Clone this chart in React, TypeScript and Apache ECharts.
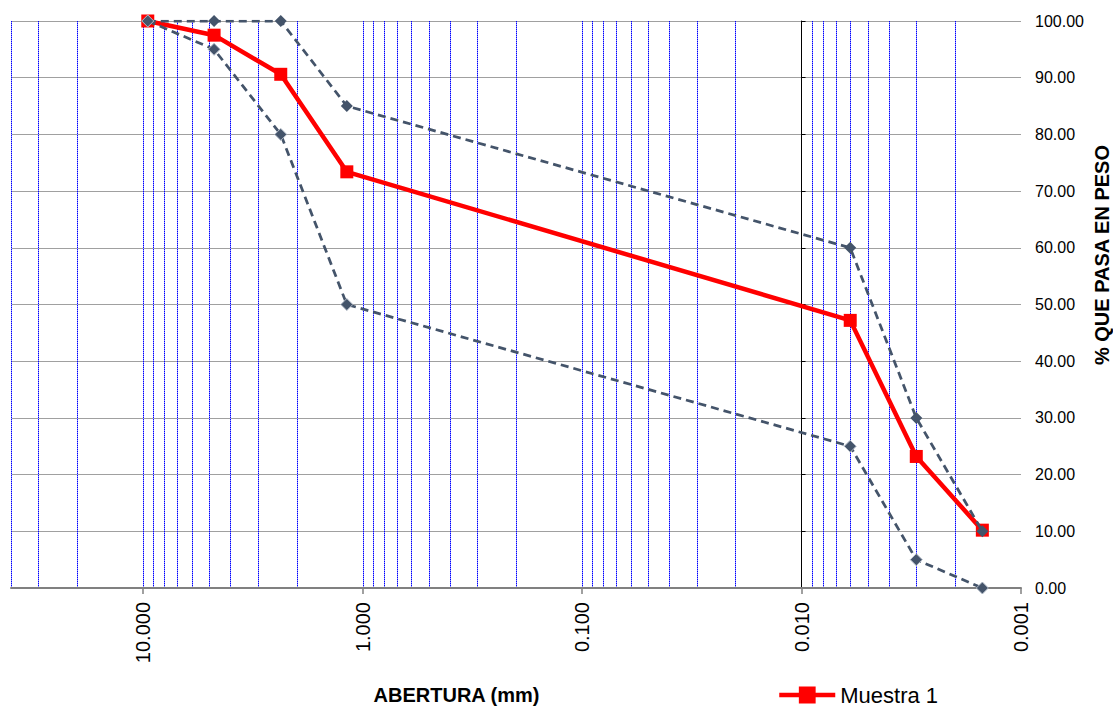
import React, { useEffect, useRef } from "react";
import * as echarts from "echarts";

// Sieve openings (mm) and % passing
const sieveSizes = [9.525, 4.75, 2.36, 1.18, 0.006, 0.003, 0.0015];
const muestra1 = [100, 97.5, 90.6, 73.4, 47.2, 23.2, 10.2];
const limiteSuperior = [100, 100, 100, 85, 60, 30, 10];
const limiteInferior = [100, 95, 80, 50, 25, 5, 0];

// Axis ticks
const xTickValues = [10, 1, 0.1, 0.01, 0.001];
const xMin = 0.001;
const xMax = 40;
const yMin = 0;
const yMax = 100;
const yInterval = 10;

// Log-grid vertical lines (decade bases x multipliers)
const gridDecades = [10, 1, 0.1, 0.01, 0.001];
const gridMultipliers = [1, 2, 3, 4, 5, 6, 7, 8, 9];
const axisCross = 0.01;

const FONT = '"Liberation Sans", Arial, Helvetica, sans-serif';
const GRID_BLUE = "#0000ff";
const GRID_BLUE_LIGHT = "#8f8fff";

function buildGridValues(): number[] {
  const vals: number[] = [];
  gridDecades.forEach((b) => {
    gridMultipliers.forEach((m) => {
      const v = m * b;
      if (v <= xMax * 1.0000001 && v >= xMin * 0.9999999) {
        if (Math.abs(v - axisCross) > 1e-9) vals.push(v);
      }
    });
  });
  return vals;
}

const pairs = (ys: number[]) => sieveSizes.map((s, i) => [s, ys[i]]);

export default function App() {
  const ref = useRef<HTMLDivElement>(null);

  useEffect(() => {
    if (!ref.current) return;
    const chart = echarts.init(ref.current, null, { renderer: "svg" });

    const gridLeft = 11;
    const gridRight = 92;
    const plotWidth = 1113 - gridLeft - gridRight;
    const crossOffset =
      -plotWidth * Math.log10(axisCross / xMin) / Math.log10(xMax / xMin);

    const option: any = {
      animation: false,
      backgroundColor: "#ffffff",
      textStyle: { fontFamily: FONT },
      grid: { left: gridLeft, right: gridRight, top: 21, bottom: 118, containLabel: false },
      xAxis: {
        type: "log",
        logBase: 10,
        min: xMin,
        max: xMax,
        inverse: true,
        z: 1.5,
        axisLine: { show: true, lineStyle: { color: "#808080", width: 2 } },
        axisTick: {
          show: true,
          length: 6,
          customValues: xTickValues,
          lineStyle: { color: "#808080", width: 1.5 },
        },
        axisLabel: {
          customValues: xTickValues,
          rotate: 90,
          margin: 14,
          fontSize: 20,
          color: "#000",
          fontFamily: FONT,
          formatter: (v: number) => Number(v).toFixed(3),
        },
        splitLine: { show: false },
        minorTick: { show: false },
        minorSplitLine: { show: false },
      },
      yAxis: [
        {
          type: "value",
          position: "right",
          min: yMin,
          max: yMax,
          interval: yInterval,
          axisLine: { show: false },
          axisTick: { show: false },
          axisLabel: {
            margin: 14,
            fontSize: 16,
            color: "#000",
            fontFamily: FONT,
            formatter: (v: number) => v.toFixed(2),
          },
          splitLine: { show: true, lineStyle: { color: "#a0a0a0", width: 1 } },
        },
        {
          type: "value",
          position: "right",
          offset: crossOffset,
          min: yMin,
          max: yMax,
          interval: yInterval,
          axisLine: { show: true, lineStyle: { color: "#000", width: 1 } },
          axisTick: { show: true, length: 4, lineStyle: { color: "#000", width: 1 } },
          axisLabel: { show: false },
          splitLine: { show: false },
        },
      ],
      legend: {
        data: ["Muestra 1"],
        left: 777,
        top: 684,
        padding: 0,
        itemWidth: 56,
        itemHeight: 21,
        itemGap: 5,
        selectedMode: false,
        lineStyle: { width: 4.5 },
        textStyle: { fontSize: 22, color: "#000", fontFamily: FONT },
      },
      graphic: [
        {
          type: "text",
          x: 456.5,
          y: 695,
          style: {
            text: "ABERTURA (mm)",
            fontSize: 20,
            fontWeight: "bold",
            fontFamily: FONT,
            fill: "#000",
            align: "center",
            verticalAlign: "middle",
          },
        },
        {
          type: "text",
          x: 1101.5,
          y: 255,
          rotation: Math.PI / 2,
          style: {
            text: "% QUE PASA EN PESO",
            fontSize: 20,
            fontWeight: "bold",
            fontFamily: FONT,
            fill: "#000",
            align: "center",
            verticalAlign: "middle",
          },
        },
      ],
      series: [
        {
          name: "grid",
          type: "custom",
          z: 1,
          silent: true,
          clip: true,
          data: buildGridValues().map((v) => [v, yMin]),
          encode: { x: 0, y: 1 },
          renderItem: (_params: any, api: any) => {
            const v = api.value(0);
            const top = api.coord([v, yMax]);
            const bottom = api.coord([v, yMin]);
            const x = Math.round(top[0]) + 0.5;
            return {
              type: "group",
              silent: true,
              children: [
                {
                  type: "line",
                  shape: { x1: x, y1: top[1], x2: x, y2: bottom[1] },
                  style: { stroke: GRID_BLUE_LIGHT, lineWidth: 1 },
                },
                {
                  type: "line",
                  shape: { x1: x, y1: top[1], x2: x, y2: bottom[1] },
                  style: { stroke: GRID_BLUE, lineWidth: 1, lineDash: [1, 1] },
                },
              ],
            };
          },
        },
        {
          name: "Muestra 1",
          type: "line",
          data: pairs(muestra1),
          symbol: "rect",
          symbolSize: 13,
          z: 3,
          lineStyle: { color: "#ff0000", width: 4.5 },
          itemStyle: { color: "#ff0000" },
          emphasis: { disabled: true },
        },
        {
          name: "Límite superior",
          type: "line",
          data: pairs(limiteSuperior),
          symbol: "diamond",
          symbolSize: 12,
          z: 4,
          lineStyle: { color: "#44546a", width: 2.75, type: [8, 5] },
          itemStyle: { color: "#44546a" },
          emphasis: { disabled: true },
        },
        {
          name: "Límite inferior",
          type: "line",
          data: pairs(limiteInferior),
          symbol: "diamond",
          symbolSize: 12,
          z: 5,
          lineStyle: { color: "#44546a", width: 2.75, type: [8, 5] },
          itemStyle: { color: "#44546a", borderColor: "#b4bcc8", borderWidth: 1 },
          emphasis: { disabled: true },
        },
      ],
    };

    chart.setOption(option);
    return () => chart.dispose();
  }, []);

  return (
    <div
      ref={ref}
      style={{ position: "fixed", left: 0, top: 0, width: 1113, height: 706, background: "#fff" }}
    />
  );
}
